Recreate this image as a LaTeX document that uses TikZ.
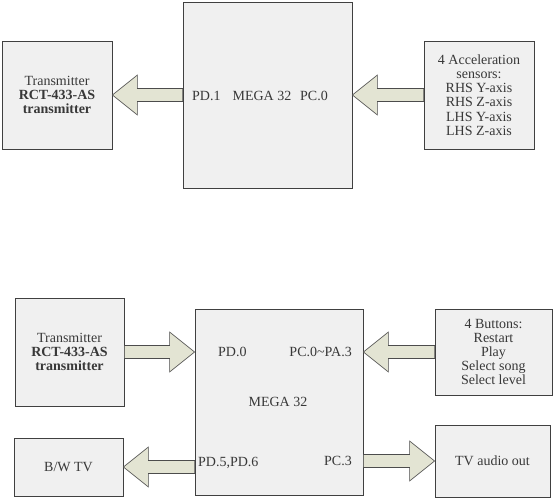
\documentclass[tikz,border=0pt]{standalone}
\usepackage{fontspec}
\setmainfont{Liberation Serif}
\usepackage{tikz}
\usetikzlibrary{calc}

\definecolor{boxgray}{HTML}{F0F0F0}
\definecolor{arrowbeige}{HTML}{E3E4D3}

% horizontal block arrow, shaft starts at #1, tip ends at #2
\newcommand{\fatarrow}[2]{%
  \filldraw[blockarrow] let \p1=(#1), \p2=(#2),
      \n1={ifthenelse(\x2>\x1,1,-1)} in
    (\x1,\y1+6.5pt) -- (\x2-\n1*25pt,\y1+6.5pt) -- (\x2-\n1*25pt,\y1+20pt)
    -- (\x2,\y1) -- (\x2-\n1*25pt,\y1-20pt) -- (\x2-\n1*25pt,\y1-6.5pt)
    -- (\x1,\y1-6.5pt) -- cycle;}

\begin{document}
\begin{tikzpicture}[x=1pt, y=-1pt,
  every node/.style={font=\fontsize{14}{14.2}\selectfont, text=black!78},
  blk/.style={draw=black!75, fill=boxgray, line width=0.8pt, inner sep=0pt,
              align=center},
  blockarrow/.style={draw=black!70, fill=arrowbeige, line width=0.6pt,
                     line join=miter}]

  \useasboundingbox (0,0) rectangle (555,500);

  % Top: sensor glove
  \node[blk, minimum width=110, minimum height=108] (tx1) at (57, 95)
    {Transmitter\\\textbf{RCT-433-AS}\\\textbf{transmitter}};
  \node[blk, minimum width=169, minimum height=186] (mega1) at (267.5, 95) {};
  \node[blk, minimum width=110, minimum height=108] (sens) at (479, 95)
    {4 Acceleration\\sensors:\\RHS Y-axis\\RHS Z-axis\\LHS Y-axis\\LHS Z-axis};
  \node[anchor=west, inner sep=0pt] (pd1) at (192, 96) {PD.1};
  \node[inner sep=0pt] (chip1) at (262, 96) {MEGA 32};
  \node[anchor=east, inner sep=0pt] (pc0) at (328, 96) {PC.0};
  \fatarrow{mega1.west |- tx1.east}{tx1.east}
  \fatarrow{sens.west}{mega1.east |- sens.west}

  % Bottom: game console
  \node[blk, minimum width=109, minimum height=108] (tx2) at (69.5, 352)
    {Transmitter\\\textbf{RCT-433-AS}\\\textbf{transmitter}};
  \node[blk, minimum width=168, minimum height=186] (mega2) at (279, 402) {};
  \node[blk, minimum width=117, minimum height=86] (btn) at (493.5, 352)
    {4 Buttons:\\Restart\\Play\\Select song\\Select level};
  \node[blk, minimum width=109, minimum height=58] (tv) at (68.5, 467)
    {B/W TV};
  \node[blk, minimum width=115, minimum height=72] (audio) at (492.5, 461)
    {TV audio out};
  \node[anchor=west, inner sep=0pt] (pd0) at (218, 352) {PD.0};
  \node[anchor=east, inner sep=0pt] (pc0a3) at (352, 352) {PC.0\textasciitilde PA.3};
  \node[inner sep=0pt] (chip2) at (278, 402) {MEGA 32};
  \node[anchor=west, inner sep=0pt] (pd56) at (198, 463) {PD.5,PD.6};
  \node[anchor=east, inner sep=0pt] (pc3) at (352, 461) {PC.3};
  \fatarrow{tx2.east}{mega2.west |- tx2.east}
  \fatarrow{btn.west}{mega2.east |- btn.west}
  \fatarrow{mega2.west |- tv.east}{tv.east}
  \fatarrow{mega2.east |- audio.west}{audio.west}
\end{tikzpicture}
\end{document}
